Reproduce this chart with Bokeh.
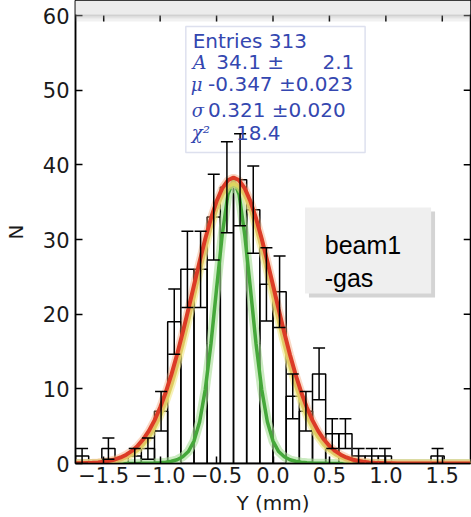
import math
from bokeh.plotting import figure
from bokeh.models import (Range1d, FixedTicker, BoxAnnotation, Label,
                          Whisker, TeeHead, ColumnDataSource)
from bokeh.embed import file_html
from bokeh.resources import INLINE

# ---------------- data ----------------
bin_lo = [-1.75, -1.6333, -1.5167, -1.4, -1.2833, -1.1667, -1.05, -0.9333, -0.8167, -0.7,
          -0.5833, -0.4667, -0.35, -0.2333, -0.1167, 0.0, 0.1167, 0.2333, 0.35, 0.4667,
          0.5833, 0.7, 0.8167, 0.9333, 1.05, 1.1667, 1.2833, 1.4, 1.5167, 1.6333]
bin_hi = [-1.6333, -1.5167, -1.4, -1.2833, -1.1667, -1.05, -0.9333, -0.8167, -0.7, -0.5833,
          -0.4667, -0.35, -0.2333, -0.1167, 0.0, 0.1167, 0.2333, 0.35, 0.4667, 0.5833,
          0.7, 0.8167, 0.9333, 1.05, 1.1667, 1.2833, 1.4, 1.5167, 1.6333, 1.75]
counts = [1, 0, 2, 0, 1, 2, 7, 19, 26, 26, 33, 37, 38, 34, 24, 23, 9, 7, 12, 4,
          4, 1, 1, 1, 0, 0, 0, 1, 0, 0]

curve_x = [-1.75, -1.70, -1.65, -1.60, -1.55, -1.50, -1.45, -1.40, -1.35, -1.30,
           -1.25, -1.20, -1.15, -1.10, -1.05, -1.00, -0.95, -0.90, -0.85, -0.80,
           -0.75, -0.70, -0.65, -0.60, -0.55, -0.50, -0.45, -0.40, -0.35, -0.30,
           -0.25, -0.20, -0.15, -0.10, -0.05, 0.00, 0.05, 0.10, 0.15, 0.20,
           0.25, 0.30, 0.35, 0.40, 0.45, 0.50, 0.55, 0.60, 0.65, 0.70,
           0.75, 0.80, 0.85, 0.90, 0.95, 1.00, 1.05, 1.10, 1.15, 1.20,
           1.25, 1.30, 1.35, 1.40, 1.45, 1.50, 1.55, 1.60, 1.65, 1.70, 1.75]
red_fit = [0.02, 0.03, 0.06, 0.09, 0.15, 0.23, 0.36, 0.54, 0.81, 1.18,
           1.68, 2.36, 3.24, 4.37, 5.78, 7.50, 9.55, 11.92, 14.60, 17.53,
           20.66, 23.88, 27.07, 30.10, 32.82, 35.12, 36.85, 37.93, 38.30, 37.93,
           36.85, 35.12, 32.82, 30.10, 27.07, 23.88, 20.66, 17.53, 14.60, 11.92,
           9.55, 7.50, 5.78, 4.37, 3.24, 2.36, 1.68, 1.18, 0.81, 0.54,
           0.36, 0.23, 0.15, 0.09, 0.06, 0.03, 0.02, 0, 0, 0,
           0, 0, 0, 0, 0, 0, 0, 0, 0, 0, 0]
yellow_fit = [0.01, 0.02, 0.03, 0.05, 0.09, 0.14, 0.23, 0.37, 0.56, 0.85,
              1.25, 1.80, 2.55, 3.53, 4.79, 6.36, 8.27, 10.52, 13.12, 16.02,
              19.15, 22.41, 25.70, 28.84, 31.70, 34.12, 35.96, 37.11, 37.50, 37.11,
              35.96, 34.12, 31.70, 28.84, 25.70, 22.41, 19.15, 16.02, 13.12, 10.52,
              8.27, 6.36, 4.79, 3.53, 2.55, 1.80, 1.25, 0.85, 0.56, 0.37,
              0.23, 0.14, 0.09, 0.05, 0.03, 0.02, 0.01, 0, 0, 0,
              0, 0, 0, 0, 0, 0, 0, 0, 0, 0, 0]
green_fit = [0, 0, 0, 0, 0, 0, 0, 0, 0, 0,
             0, 0, 0.02, 0.04, 0.06, 0.10, 0.18, 0.30, 0.50, 0.90,
             1.60, 3.0, 5.6, 9.9, 16.0, 23.4, 30.6, 36.0, 38.0, 36.0,
             30.6, 23.4, 16.0, 9.9, 5.6, 3.0, 1.6, 0.9, 0.5, 0.30,
             0.18, 0.10, 0.06, 0.04, 0.02, 0, 0, 0, 0, 0,
             0, 0, 0, 0, 0, 0, 0, 0, 0, 0,
             0, 0, 0, 0, 0, 0, 0, 0, 0, 0, 0]

x_ticks = [-1.5, -1.0, -0.5, 0.0, 0.5, 1.0, 1.5]
x_tick_labels = {-1.5: "\u22121.5", -1: "\u22121.0", -0.5: "\u22120.5", 0: "0.0",
                 0.5: "0.5", 1: "1.0", 1.5: "1.5"}
y_ticks = [0, 10, 20, 30, 40, 50, 60]

stats_lines = ["Entries 313", "34.1 \u00b1", "2.1", "-0.347 \u00b10.023",
               "0.321 \u00b10.020", "18.4"]

# ---------------- figure ----------------
X0, X1 = -1.75, 1.75
Y0, Y1 = 0, 62.01
p = figure(width=471, height=517, output_backend="svg", toolbar_location=None,
           x_range=Range1d(X0, X1), y_range=Range1d(Y0, Y1),
           min_border_left=69, min_border_right=1, min_border_top=0, min_border_bottom=54,
           x_axis_label="Y (mm)", y_axis_label="N")
p.grid.visible = False
p.background_fill_color = "white"
p.border_fill_color = "white"
p.outline_line_color = "black"
p.outline_line_width = 1.5

FONT = "DejaVu Sans"
for ax in p.xaxis + p.yaxis:
    ax.axis_line_color = "black"
    ax.axis_line_width = 1.5
    ax.major_tick_in = 7
    ax.major_tick_out = 0
    ax.major_tick_line_width = 1.5
    ax.minor_tick_line_color = None
    ax.major_label_text_font = FONT
    ax.major_label_text_font_size = "21px"
    ax.major_label_text_color = "#1a1a1a"
    ax.axis_label_text_font = FONT
    ax.axis_label_text_font_size = "20px"
    ax.axis_label_text_font_style = "normal"
    ax.axis_label_text_color = "#1a1a1a"

p.xaxis.ticker = FixedTicker(ticks=x_ticks)
p.xaxis.major_label_overrides = x_tick_labels
p.xaxis.major_label_standoff = 3
p.xaxis.axis_label_standoff = 5
p.yaxis.ticker = FixedTicker(ticks=y_ticks)
p.yaxis.major_label_standoff = 6
p.yaxis.axis_label_standoff = 12

# inward ticks on the top and right sides of the frame
p.segment(x0=x_ticks, x1=x_ticks, y0=[60] * len(x_ticks), y1=[59.2] * len(x_ticks),
          line_color="black", line_width=1.5)
p.segment(x0=[X1] * len(y_ticks), x1=[X1 - 0.06] * len(y_ticks), y0=y_ticks, y1=y_ticks,
          line_color="black", line_width=1.5)

# stats box (under the data)
p.add_layout(BoxAnnotation(left=-0.7725, right=0.8161, bottom=41.65, top=58.53,
                           fill_color="white", fill_alpha=1.0, line_color="#8e97c8",
                           line_width=1.5, level="underlay"))

# histogram boxes
nz = [i for i, c in enumerate(counts) if c > 0]
hsrc = ColumnDataSource(dict(left=[bin_lo[i] for i in nz], right=[bin_hi[i] for i in nz],
                             top=[counts[i] for i in nz], bottom=[0] * len(nz)))
p.quad(left="left", right="right", top="top", bottom="bottom", source=hsrc,
       fill_color=None, line_color="black", line_width=1.5)

# curves
p.line(curve_x, green_fit, line_color="#a8dd98", line_width=9, line_alpha=0.6)
p.line(curve_x, green_fit, line_color="#45a83a", line_width=3.5)
p.line(curve_x, yellow_fit, line_color="#f2e88a", line_width=8, line_alpha=0.6)
p.line(curve_x, yellow_fit, line_color="#dcd660", line_width=4)
p.line(curve_x, red_fit, line_color="#f3a070", line_width=8, line_alpha=0.4)
p.line(curve_x, red_fit, line_color="#dc3b26", line_width=4)

# error bars
esrc = ColumnDataSource(dict(
    x=[(bin_lo[i] + bin_hi[i]) / 2 for i in nz],
    upper=[counts[i] + math.sqrt(counts[i]) for i in nz],
    lower=[counts[i] - math.sqrt(counts[i]) for i in nz]))
p.add_layout(Whisker(source=esrc, base="x", upper="upper", lower="lower",
                     line_color="black", line_width=1.5, level="annotation",
                     upper_head=TeeHead(size=12, line_color="black", line_width=1.5),
                     lower_head=TeeHead(size=12, line_color="black", line_width=1.5)))

# stats text
BLUE = "#3447b0"
def lab(x, y, t, align="left", italic=False, font=FONT, size="20px"):
    p.add_layout(Label(x=x, y=y, text=t, text_align=align, text_baseline="middle",
                       text_font=font, text_font_size=size, text_color=BLUE,
                       text_font_style="italic" if italic else "normal"))

lab(-0.7114, 56.65, stats_lines[0])
lab(-0.7114, 53.71, "A", italic=True, font="DejaVu Serif", size="19px")
lab(-0.5018, 53.71, stats_lines[1])
lab(0.7201, 53.71, stats_lines[2], align="right")
lab(-0.7289, 50.76, "\u03bc", italic=True, font="DejaVu Serif", size="18px")
lab(-0.5750, 50.76, stats_lines[3])
lab(-0.7200, 47.28, "\u03c3", italic=True, font="DejaVu Serif", size="18px")
lab(-0.5750, 47.28, stats_lines[4])
lab(-0.7200, 44.33, "\u03c7\u00b2", italic=True, font="DejaVu Serif", size="18px")
lab(-0.3273, 44.33, stats_lines[5])

# "beam1 -gas" box with shadow
p.add_layout(BoxAnnotation(left=0.3186, right=1.4358, bottom=22.23, top=33.75,
                           fill_color="#b8b8b8", fill_alpha=0.6, line_color=None))
p.add_layout(BoxAnnotation(left=0.2837, right=1.4009, bottom=22.77, top=34.29,
                           fill_color="#efefef", fill_alpha=1.0, line_color=None))
for yy, t in [(29.2, "beam1"), (24.78, "-gas")]:
    p.add_layout(Label(x=0.4583, y=yy, text=t, text_align="left", text_baseline="alphabetic",
                       text_font="Liberation Sans", text_font_size="25px", text_color="black"))

# top grey band (covers the top strip of the page) with soft shadow
p.add_layout(BoxAnnotation(left=-1.8024, right=X1, bottom=60.13, top=Y1,
                           fill_color="#ececec", fill_alpha=1.0, line_color=None))
for b, t, a in [(59.86, 60.13, 0.45), (59.6, 59.86, 0.28), (59.2, 59.6, 0.14)]:
    p.add_layout(BoxAnnotation(left=-1.8024, right=X1, bottom=b, top=t,
                               fill_color="#9a9a9a", fill_alpha=a, line_color=None))

open("out.html", "w").write(file_html(p, INLINE))
